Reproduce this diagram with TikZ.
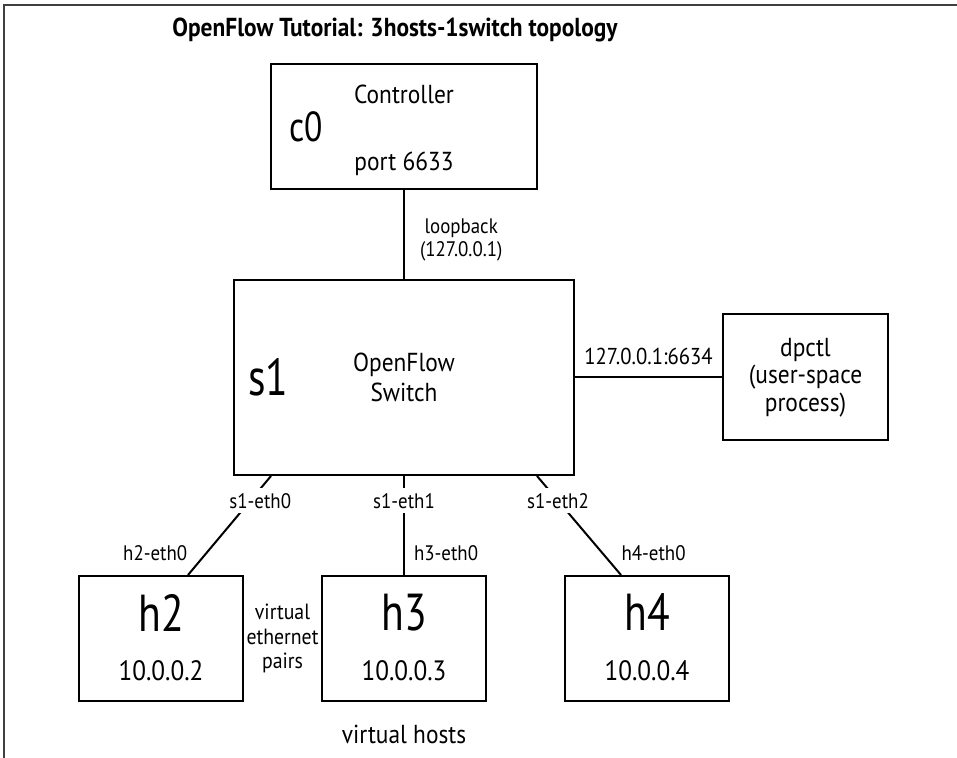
\documentclass[tikz,border=0pt]{standalone}
\usepackage{fontspec}
\setmainfont{PT Sans}[FakeStretch=0.9]
\newfontfamily\tagfont{PT Sans}[FakeStretch=0.8]
\usetikzlibrary{positioning, calc}

\begin{document}
\begin{tikzpicture}[
    x=0.5pt, y=-0.5pt,
    node distance=40pt and 40pt,
    font=\fontsize{13}{15}\selectfont,
    box/.style={draw, line width=1pt, inner sep=0pt, align=center},
    ctrlbox/.style={box, minimum width=133pt, minimum height=62.5pt},
    switchbox/.style={box, minimum width=170pt, minimum height=97.5pt},
    procbox/.style={box, minimum width=82.5pt, minimum height=63pt, font=\fontsize{13}{13.75}\selectfont},
    hostbox/.style={box, minimum width=82pt, minimum height=62.5pt},
    tag/.style={inner sep=0pt, font=\tagfont\fontsize{21}{21}\selectfont},
    bigtag/.style={inner sep=0pt, font=\tagfont\fontsize{26}{26}\selectfont},
    txt/.style={inner sep=0pt, align=center},
    ip/.style={inner sep=0pt, font=\fontsize{14}{14}\selectfont},
    note/.style={inner sep=0pt, align=center, font=\fontsize{10.5}{11.5}\selectfont},
    port/.style={fill=white, inner xsep=1pt, inner ysep=2.5pt, font=\fontsize{10.5}{11}\selectfont},
    ifname/.style={inner sep=0pt, font=\fontsize{10.5}{11}\selectfont},
    link/.style={line width=1pt},
    frame/.style={line width=1pt, black!75}
  ]
    \useasboundingbox (0,0) rectangle (957,758);
    \draw[frame] (4,758) -- (4,5) -- (957,5);
    \node[anchor=base, font=\fontsize{13}{15}\selectfont\bfseries] (title) at (395,37)
    {OpenFlow Tutorial: 3hosts-1switch topology};
    % controller, switch and hosts
    \node[ctrlbox] (c0) at (404,126.5) {};
    \node[switchbox, below=44.5pt of c0] (s1) {};
    \node[procbox, right=73.5pt of s1] (dpctl) {dpctl\\(user-space\\process)};
    \node[hostbox, below=49.5pt of s1] (h3) {};
    \node[hostbox, left=38.5pt of h3] (h2) {};
    \node[hostbox, right=38.5pt of h3] (h4) {};
    % texts inside the boxes
    \node[tag, right=9.5pt of c0.west] (c0tag) {c0};
    \node[txt] (ctrl) at ([yshift=16.25pt]c0.center) {Controller};
    \node[txt] (ctrlport) at ([yshift=-18.5pt]c0.center) {port 6633};
    \node[bigtag, right=7.5pt of s1.west] (s1tag) {s1};
    \node[txt] (ofs) at (s1.center) {OpenFlow\\Switch};
    \foreach \h/\ip in {h2/10.0.0.2, h3/10.0.0.3, h4/10.0.0.4} {
      \node[bigtag] (\h tag) at ([yshift=13pt]\h.center) {\h};
      \node[ip] (\h ip) at ([yshift=-16.25pt]\h.center) {\ip};
    }
    \node[note, font=\fontsize{11}{12.25}\selectfont] (veth) at ($(h2.east)!0.5!(h3.west)$)
    {virtual\\ethernet\\pairs};
    \node[txt, below=11.5pt of h3] (vhosts) {virtual hosts};
    % links
    \draw[link] (c0) -- node[note, midway, right=7.5pt, yshift=-2.5pt] (loop) {loopback\\(127.0.0.1)} (s1);
    \draw[link] (s1) -- node[note, midway, above=6pt, font=\fontsize{11.5}{12}\selectfont] (dpport) {127.0.0.1:6634} (dpctl);
    \draw[link] ([xshift=-66.5pt]s1.south) -- node[port, pos=0.25, xshift=5pt] (e0) {s1-eth0}
      node[ifname, pos=0.78, left=9pt] (h2e) {h2-eth0} ([xshift=13.5pt]h2.north);
    \draw[link] (s1.south) -- node[port, pos=0.25] (e1) {s1-eth1}
      node[ifname, pos=0.78, right=4.5pt] (h3e) {h3-eth0} (h3.north);
    \draw[link] ([xshift=66.5pt]s1.south) -- node[port, pos=0.25] (e2) {s1-eth2}
      node[ifname, pos=0.78, right=9pt] (h4e) {h4-eth0} ([xshift=-13pt]h4.north);
  \end{tikzpicture}
\end{document}
